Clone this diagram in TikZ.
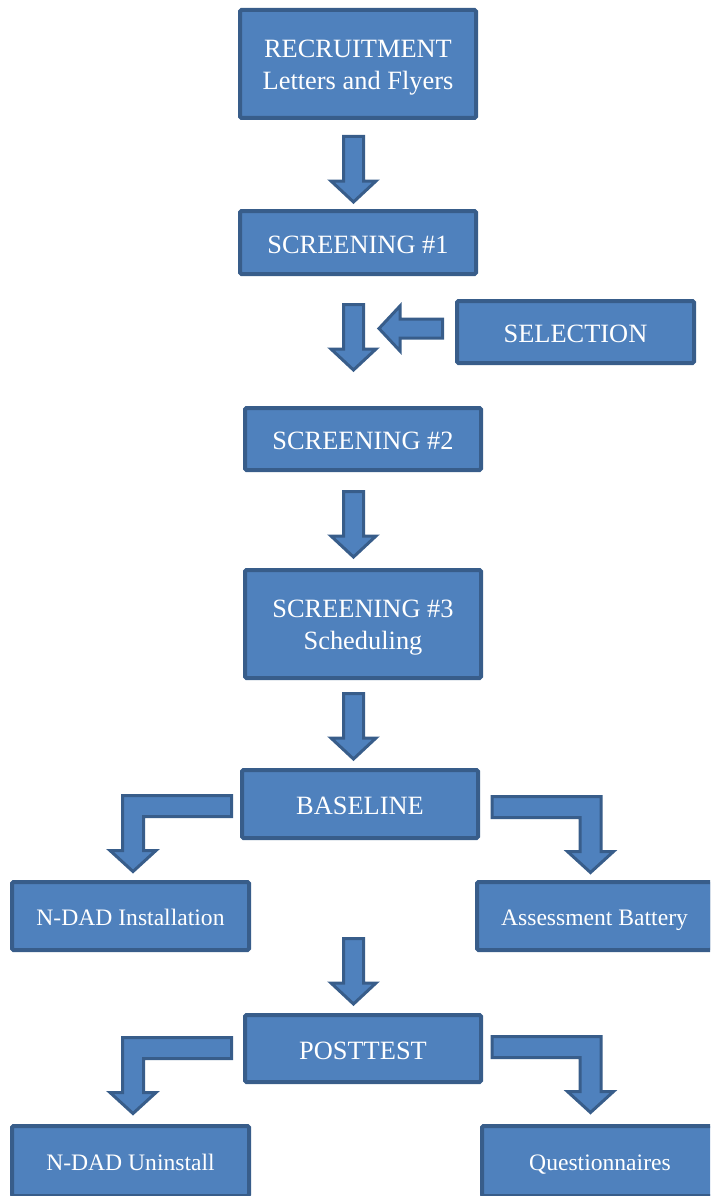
\documentclass[tikz,border=0pt]{standalone}
\usepackage{fontspec}
\setmainfont{Liberation Serif}
\definecolor{blu}{HTML}{4F81BD}
\definecolor{bord}{HTML}{385D8A}
\tikzset{
  box/.style={draw=bord, fill=blu, line width=4pt, rounded corners=1.5pt,
    text=white, inner sep=0pt, outer sep=0pt,
    font=\fontsize{26.4}{32}\selectfont},
  twobox/.style={box, align=center},
  onebox/.style={box, text depth=0pt, text height=21.6pt},
  smallbox/.style={box, font=\fontsize{23.6}{28}\selectfont, text depth=0pt, text height=19.6pt},
  blockarrow/.style={draw=bord, fill=blu, line width=3pt, line join=miter},
  downarr/.pic={\path[blockarrow] (-10,1.5) -- (10,1.5) -- (10,46) -- (22.5,46)
      -- (0,67) -- (-22.5,46) -- (-10,46) -- cycle;},
  leftarr/.pic={\path[blockarrow] (2,0) -- (23,-22.5) -- (23,-9.5) -- (65.5,-9.5)
      -- (65.5,9.5) -- (23,9.5) -- (23,22.5) -- cycle;},
  bentarr/.pic={\path[blockarrow] (98.5,1.5) -- (-10.5,1.5) -- (-10.5,56.5)
      -- (-23,56.5) -- (0,77.5) -- (23,56.5) -- (10.5,56.5) -- (10.5,22.5)
      -- (98.5,22.5) -- cycle;}
}
\newcommand{\liftstrut}{\rule{0pt}{24pt}}
\begin{document}
\begin{tikzpicture}[x=1pt,y=-1pt]
\useasboundingbox (0,0) rectangle (710,1196);
\clip (0,0) rectangle (710,1196);
% nodes
\node[twobox, minimum width=236, minimum height=108] (rec) at (358,64) {\liftstrut RECRUITMENT\\Letters and Flyers};
\node[onebox, minimum width=236, minimum height=63] (s1) at (358,242.5) {SCREENING \#1};
\node[onebox, minimum width=237, minimum height=62] (sel) at (575.5,332) {SELECTION};
\node[onebox, minimum width=236, minimum height=62] (s2) at (363,439) {SCREENING \#2};
\node[twobox, minimum width=236, minimum height=108] (s3) at (363,624) {\liftstrut SCREENING \#3\\Scheduling};
\node[onebox, minimum width=236, minimum height=68] (base) at (360,804) {BASELINE};
\node[smallbox, minimum width=237, minimum height=68] (ndi) at (130.5,916) {N-DAD Installation};
\node[smallbox, minimum width=235, minimum height=68] (ab) at (594.5,916) {Assessment Battery};
\node[onebox, minimum width=236, minimum height=67] (post) at (363,1048.5) {POSTTEST};
\node[smallbox, minimum width=237, minimum height=70] (ndu) at (130.5,1161) {N-DAD Uninstall};
\node[smallbox, minimum width=236, minimum height=70] (q) at (600,1161) {Questionnaires};
% block arrows
\pic at (353.5,135) {downarr};
\pic at (353.5,303) {downarr};
\pic at (377,328.5) {leftarr};
\pic at (353.5,490) {downarr};
\pic at (353.5,692) {downarr};
\pic at (353.5,937) {downarr};
\pic at (133,794) {bentarr};
\pic[xscale=-1] at (590.5,795) {bentarr};
\pic at (133,1036) {bentarr};
\pic[xscale=-1] at (590.5,1035) {bentarr};
\end{tikzpicture}
\end{document}
